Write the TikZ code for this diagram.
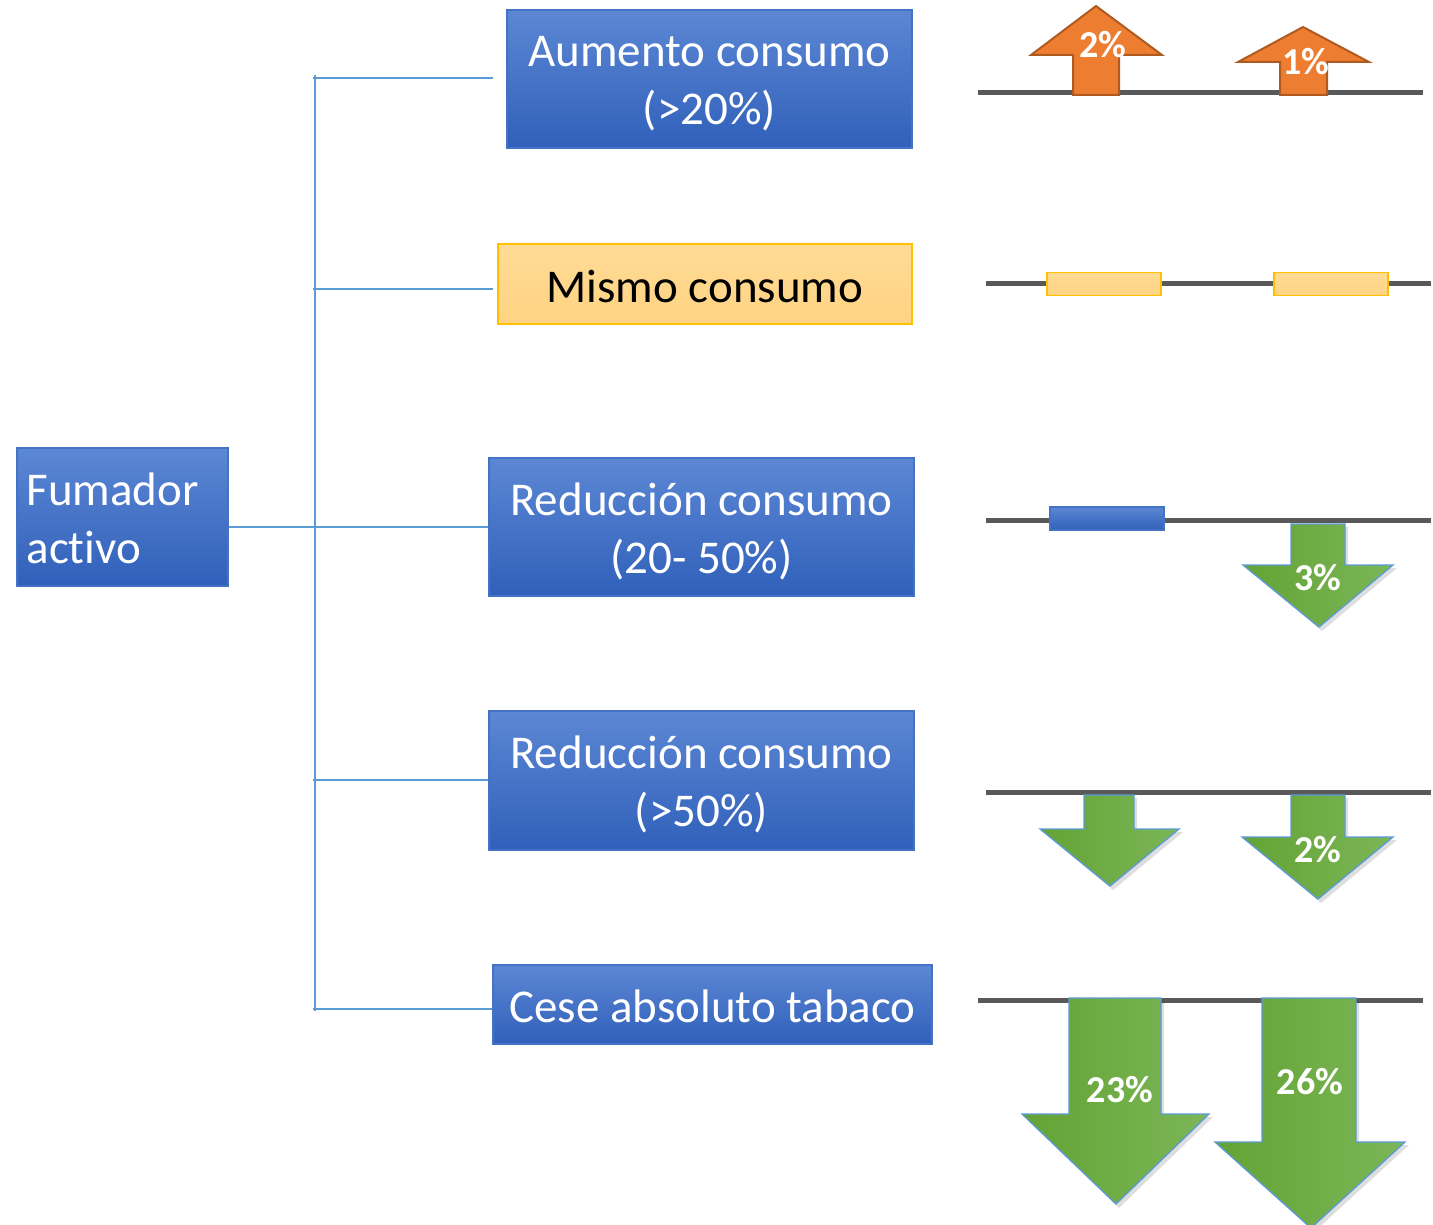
\documentclass[tikz,border=0pt]{standalone}
\usepackage{fontspec}
\setmainfont[Ligatures=NoCommon]{Carlito}
\begin{document}
\begin{tikzpicture}[x=1pt,y=-1pt,
  bluebox/.style={draw=bBorder, line width=1.2pt, top color=bTop, bottom color=bBot, inner sep=0pt},
  yelbox/.style={draw=yBorder, line width=1.5pt, top color=yTop, bottom color=yBot, inner sep=0pt},
  btext/.style={text=white, inner sep=0pt, font=\fontsize{47}{58}\selectfont, align=center},
  ytext/.style={text=black, inner sep=0pt, font=\fontsize{47}{58}\selectfont},
  tree/.style={draw=treeC, line width=2.8pt},
  bar/.style={draw=barC, line width=5pt},
  upar/.style={fill=oFill, draw=oBorder, line width=2pt, line join=miter},
  dnar/.style={left color=gL, right color=gR, draw=treeC, line width=1.3pt, line join=miter},
  shad/.style={fill=black, opacity=0.13},
  pct/.style={text=white, font=\fontsize{38}{44}\selectfont\bfseries, inner sep=0pt}
]
\definecolor{bTop}{RGB}{92,135,212}
\definecolor{bBot}{RGB}{48,96,186}
\definecolor{bBorder}{RGB}{68,114,196}
\definecolor{yTop}{RGB}{255,219,150}
\definecolor{yBot}{RGB}{255,211,130}
\definecolor{yBorder}{RGB}{255,192,0}
\definecolor{treeC}{RGB}{91,155,213}
\definecolor{barC}{RGB}{89,89,89}
\definecolor{oFill}{RGB}{237,125,49}
\definecolor{oBorder}{RGB}{174,90,33}
\definecolor{gL}{RGB}{99,163,52}
\definecolor{gR}{RGB}{124,182,88}
\useasboundingbox (0,0) rectangle (1433,1225);

% left node
\node[bluebox, minimum width=211pt, minimum height=138pt] (fum) at (122.5,517) {};
\node[btext, align=left, anchor=west] (fumt) at ([xshift=10pt,yshift=-1pt]fum.west) {Fumador\\activo};

% middle boxes
\node[bluebox, minimum width=405pt, minimum height=138pt] (aum) at (709.5,79) {};
\node[btext] (aumt) at ([yshift=-5pt]aum.center) {Aumento consumo\\(>20\%)};
\node[yelbox, minimum width=414pt, minimum height=80pt] (mis) at (705,284) {};
\node[ytext] (mist) at ([yshift=-3pt]mis.center) {Mismo consumo};
\node[bluebox, minimum width=425pt, minimum height=138pt] (red1) at (701.5,527) {};
\node[btext] (red1t) at ([yshift=-4pt]red1.center) {Reducción consumo\\(20- 50\%)};
\node[bluebox, minimum width=425pt, minimum height=139pt] (red2) at (701.5,780.5) {};
\node[btext] (red2t) at ([yshift=-4pt]red2.center) {Reducción consumo\\(>50\%)};
\node[bluebox, minimum width=439pt, minimum height=79pt] (ces) at (712.5,1004.5) {};
\node[btext] (cest) at ([yshift=-2pt]ces.center) {Cese absoluto tabaco};

% tree
\coordinate (ttop) at (315,75);
\coordinate (tbot) at (315,1011);
\draw[tree] (ttop) -- (tbot);
\draw[tree] (313,78) -- ([xshift=-13pt]aum.west |- 0,78);
\draw[tree] (313,289) -- ([xshift=-4pt]mis.west |- 0,289);
\draw[tree] (fum.east |- red1.west) -- (red1.west);
\draw[tree] (313,780) -- (red2.west |- 0,780);
\draw[tree] (313,1009) -- (ces.west |- 0,1009);

% row 1
\draw[bar] (978,93) -- (1423,93);
\path[upar] (1073,95) -- (1073,55) -- (1031,55) -- (1096,6) -- (1162,55) -- (1119,55) -- (1119,95) -- cycle;
\path[upar] (1280,95) -- (1280,62) -- (1238,62) -- (1303,27) -- (1369,62) -- (1327,62) -- (1327,95) -- cycle;
\node[pct] (p1) at (1103,45) {2\%};
\node[pct] (p2) at (1306,62) {1\%};

% row 2
\draw[bar] (986,284) -- (1431,284);
\node[yelbox, minimum width=114pt, minimum height=23pt, line width=1.2pt] (y1) at (1104,284) {};
\node[yelbox, minimum width=114pt, minimum height=23pt, line width=1.2pt] (y2) at (1331,284) {};

% row 3
\draw[bar] (986,520) -- (1431,520);
\node[bluebox, minimum width=114pt, minimum height=23pt] (b1) at (1107,518.5) {};
\fill[shad] (1294,527) -- (1348,527) -- (1348,568) -- (1397,568) -- (1322,631) -- (1246,568) -- (1294,568) -- cycle;
\path[dnar] (1291,524) -- (1345,524) -- (1345,565) -- (1393,565) -- (1319,627) -- (1243,565) -- (1291,565) -- cycle;
\node[pct] (p3) at (1318,578) {3\%};

% row 4
\draw[bar] (986,792) -- (1431,792);
\fill[shad] (1087,798) -- (1137,798) -- (1137,832) -- (1183,832) -- (1113,890) -- (1043,832) -- (1087,832) -- cycle;
\path[dnar] (1084,795) -- (1134,795) -- (1134,829) -- (1179,829) -- (1110,886) -- (1040,829) -- (1084,829) -- cycle;
\fill[shad] (1294,798) -- (1348,798) -- (1348,840) -- (1397,840) -- (1321,903) -- (1245,840) -- (1294,840) -- cycle;
\path[dnar] (1291,795) -- (1345,795) -- (1345,837) -- (1393,837) -- (1318,899) -- (1242,837) -- (1291,837) -- cycle;
\node[pct] (p4) at (1318,850) {2\%};

% row 5
\draw[bar] (978,1000) -- (1423,1000);
\fill[shad] (1072,1001) -- (1164,1001) -- (1164,1117) -- (1213,1117) -- (1119,1208) -- (1025,1117) -- (1072,1117) -- cycle;
\path[dnar] (1069,998) -- (1161,998) -- (1161,1114) -- (1209,1114) -- (1116,1204) -- (1022,1114) -- (1069,1114) -- cycle;
\fill[shad] (1265,1001) -- (1359,1001) -- (1359,1145) -- (1409,1145) -- (1314,1232) -- (1218,1145) -- (1265,1145) -- cycle;
\path[dnar] (1262,998) -- (1356,998) -- (1356,1142) -- (1405,1142) -- (1311,1228) -- (1215,1142) -- (1262,1142) -- cycle;
\node[pct] (p5) at (1120,1090) {23\%};
\node[pct] (p6) at (1310,1082) {26\%};
\end{tikzpicture}
\end{document}
